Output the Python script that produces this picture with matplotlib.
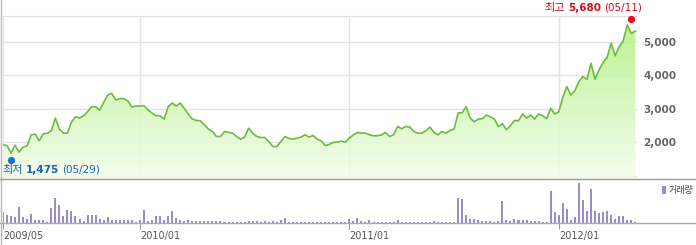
import matplotlib
matplotlib.use('Agg')
import matplotlib.pyplot as plt
import numpy as np
import pandas as pd
from matplotlib.lines import Line2D
from matplotlib.offsetbox import TextArea, HPacker, AnnotationBbox
from matplotlib.colors import to_rgb

plt.rcParams['font.family'] = ['DejaVu Sans', 'Noto Sans CJK KR']

# 주간 종가 (2009/05 ~ 2012/05)
dates = pd.date_range('2009-05-11', periods=158, freq='W-MON')
price = [
    1920, 1900, 1670, 1910, 1700, 1850, 1890, 2220, 2240, 2040,
    2250, 2260, 2340, 2720, 2390, 2270, 2270, 2600, 2760, 2720,
    2790, 2910, 3060, 3060, 2960, 3190, 3410, 3460, 3260, 3300,
    3300, 3230, 3050, 3080, 3080, 3090, 2960, 2870, 2790, 2790,
    2690, 3050, 3170, 3080, 3170, 3010, 2840, 2690, 2650, 2640,
    2520, 2390, 2320, 2170, 2170, 2320, 2290, 2270, 2170, 2090,
    2150, 2420, 2270, 2170, 2140, 2140, 2020, 1870, 1870, 2020,
    2170, 2110, 2090, 2120, 2150, 2220, 2150, 2200, 2090, 2040,
    1900, 1930, 1990, 2000, 2030, 2000, 2120, 2220, 2290, 2270,
    2270, 2220, 2190, 2190, 2220, 2290, 2170, 2220, 2470, 2400,
    2470, 2450, 2320, 2270, 2270, 2340, 2450, 2290, 2220, 2320,
    2270, 2350, 2390, 2870, 2880, 3060, 2720, 2610, 2690, 2700,
    2810, 2760, 2690, 2470, 2550, 2370, 2490, 2650, 2640, 2840,
    2720, 2810, 2690, 2840, 2790, 2700, 3010, 2840, 2910, 3340,
    3660, 3410, 3540, 3810, 3960, 3880, 4360, 3880, 4160, 4380,
    4530, 4960, 4580, 4850, 5030, 5500, 5250, 5320]

# 거래량 (상대값)
volume = [
    107, 77, 73, 57, 157, 60, 40, 90, 33, 33, 27, 13,
    150, 247, 180, 67, 133, 117, 67, 40, 17,
    83, 83, 83, 40, 33, 57, 27, 27, 27, 27, 27, 33, 7, 27,
    133, 23, 33, 67, 73, 33, 67, 123, 50, 33, 23, 27, 20, 23, 23, 23, 23, 23, 23, 23,
    10, 10, 10, 10, 10, 10,
    17, 23, 17, 10, 17, 13, 17, 13, 27, 50,
    13, 13, 13, 13, 10, 13, 13, 10, 13, 10, 10, 10, 10, 10, 13,
    40, 23, 50, 23, 10, 33, 10, 10, 10, 10, 10, 10, 30, 13, 10, 10, 10, 10, 7,
    13, 13, 17, 10, 7, 7, 7, 13,
    250, 243, 83, 43, 43, 33, 23, 23, 17, 7, 23, 223,
    33, 17, 40, 33, 33, 33, 23, 17, 17, 7, 10, 317,
    110, 77, 200, 143, 27, 60, 400, 233, 117, 340,
    117, 100, 107, 117, 77, 40, 67, 67, 27, 33, 10]

tick_months = ['2009/05', '2010/01', '2011/01', '2012/01']
y_ticks = [1000, 2000, 3000, 4000, 5000]
high_value, high_date = 5680, '2012-05-11'
low_value, low_date = 1475, '2009-05-29'

x = np.arange(len(price))
month_str = dates.strftime('%Y/%m')
tick_idx = [int(np.where(month_str == m)[0][0]) for m in tick_months]
hi_i = int(np.searchsorted(dates, pd.Timestamp(high_date), side='right') - 1)
lo_i = int(np.searchsorted(dates, pd.Timestamp(low_date), side='right') - 1)

W, H = 696, 245
fig = plt.figure(figsize=(W / 100, H / 100), dpi=100)


def px_axes(l, t, r, b):
    return fig.add_axes([l / W, 1 - b / H, (r - l) / W, (b - t) / H])


ax = px_axes(3, 16, 636.5, 179.3)
vax = px_axes(3, 179.3, 636.5, 222.8)

xmax = 157.3
ymin, ymax = 890, 5770
ax.set_xlim(0, xmax)
ax.set_ylim(ymin, ymax)

# 그리드
for yv in y_ticks:
    ax.axhline(yv, color='#e4e4e4', lw=1, zorder=0)
for ti in tick_idx:
    ax.axvline(ti, color='#e4e4e4', lw=1, zorder=0)

# 그라데이션 영역
top_c = np.array(to_rgb('#aef07c'))
bot_c = np.array(to_rgb('#f3fdec'))
t = np.linspace(0, 1, 256)[:, None]
grad = (top_c * (1 - t) + bot_c * t)[:, None, :]
poly = ax.fill_between(x, price, ymin, facecolor='none', edgecolor='none')
im = ax.imshow(grad, extent=[0, xmax, ymin, ymax], aspect='auto',
               origin='upper', alpha=0.85, zorder=1)
im.set_clip_path(poly.get_paths()[0], transform=ax.transData)
ax.plot(x, price, color='#6cbd3e', lw=1.2, zorder=3)

# 최고/최저 표시
ax.plot(hi_i, high_value, 'o', color='#e8101a', ms=4.2, zorder=4, clip_on=False)
ax.plot(lo_i, low_value, 'o', color='#1f6fd0', ms=4.2, zorder=4, clip_on=False)

red = '#c8141e'
hi_box = HPacker(children=[
    TextArea('최고', textprops=dict(color=red, fontsize=8)),
    TextArea('5,680', textprops=dict(color=red, fontsize=7.5, fontweight='bold')),
    TextArea('(05/11)', textprops=dict(color=red, fontsize=7.5)),
], sep=2.2, align='baseline', pad=0)
ax.add_artist(AnnotationBbox(hi_box, (hi_i, high_value), xybox=(7.5, 4.5),
                             xycoords='data', boxcoords='offset points',
                             box_alignment=(1, 0), frameon=False,
                             annotation_clip=False))

blue = '#1b5fb0'
lo_box = HPacker(children=[
    TextArea('최저', textprops=dict(color=blue, fontsize=8)),
    TextArea('1,475', textprops=dict(color=blue, fontsize=7.5, fontweight='bold')),
    TextArea('(05/29)', textprops=dict(color=blue, fontsize=7.5)),
], sep=2.2, align='baseline', pad=0)
ax.add_artist(AnnotationBbox(lo_box, (lo_i, low_value), xybox=(-6.2, -3.5),
                             xycoords='data', boxcoords='offset points',
                             box_alignment=(0, 1), frameon=False,
                             annotation_clip=False))

ax.set_xticks(tick_idx)
ax.set_xticklabels([])
ax.tick_params(axis='x', length=0)
ax.yaxis.tick_right()
ax.set_yticks(y_ticks, ['' if v == 1000 else f'{v:,}' for v in y_ticks])
ax.tick_params(axis='y', length=0, pad=5, labelsize=7.5, labelcolor='#666666')
for lb in ax.get_yticklabels():
    lb.set_fontweight('bold')
for s in ['left', 'right', 'bottom']:
    ax.spines[s].set_visible(False)
ax.spines['top'].set_color('#e0e0e0')

# 거래량
vax.bar(x, volume, width=0.5, color='#9a8cc8', label='거래량')
vax.set_xlim(0, xmax)
vax.set_ylim(0, 435)
vax.set_yticks([])
vax.set_xticks(tick_idx, tick_months)
vax.tick_params(axis='x', length=4, color='#999999', pad=2, labelsize=7,
                labelcolor='#555555')
for lb in vax.get_xticklabels():
    lb.set_ha('left')
for s in vax.spines.values():
    s.set_visible(False)
vax.patch.set_alpha(0)

fig.legend(loc='upper right', bbox_to_anchor=(693 / W, 1 - 186 / H),
           frameon=False, fontsize=6.5, handlelength=0.35, handleheight=1.0,
           handletextpad=0.3, borderpad=0, borderaxespad=0,
           labelcolor='#444444')

# 외곽선
fig.add_artist(Line2D([1 / W, 1 / W], [0, 1], color='#b8b8b8', lw=1))
fig.add_artist(Line2D([0, 1], [1 - 179.3 / H] * 2, color='#999999', lw=1))
fig.add_artist(Line2D([0, 1], [1 - 222.8 / H] * 2, color='#aaaaaa', lw=1))

fig.savefig('out.png', dpi=100)
